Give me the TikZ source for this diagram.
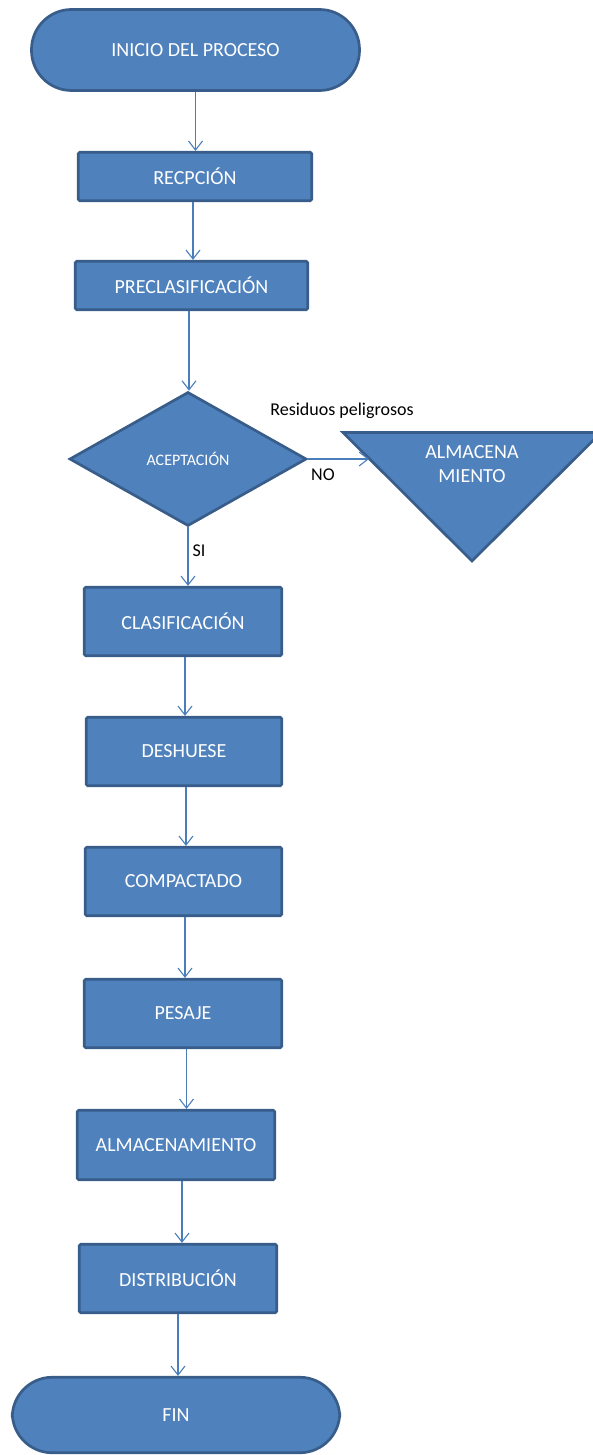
\documentclass[tikz,border=0pt]{standalone}
\usepackage{fontspec}
\setmainfont{Carlito}
\usetikzlibrary{shapes.geometric,arrows.meta}
\definecolor{boxfill}{HTML}{4F81BD}
\definecolor{boxline}{HTML}{385D8A}
\definecolor{arrowc}{HTML}{4A7EBB}
\tikzset{
  procbox/.style={draw=boxline, fill=boxfill, line width=2.7pt, rounded corners=1.5pt, text=white, inner sep=0pt, font=\fontsize{20}{24}\selectfont},
  termbox/.style={procbox, rounded corners=40pt},
  decbox/.style={draw=boxline, fill=boxfill, line width=2.7pt, diamond, text=white, inner sep=0pt, font=\fontsize{16}{19}\selectfont},
  storebox/.style={draw=boxline, fill=boxfill, line width=2.7pt, line join=miter},
  flow/.style={draw=arrowc, line width=1.1pt, -{Straight Barb[length=9pt,width=14pt]}},
  lbl/.style={text=black, inner sep=0pt, font=\fontsize{18}{22}\selectfont},
  whitetxt/.style={text=white, inner sep=0pt, align=center, font=\fontsize{20}{24}\selectfont},
}
\begin{document}
\begin{tikzpicture}[x=1pt,y=-1pt]
\useasboundingbox (0,0) rectangle (592,1455);
% nodes
\node[termbox, minimum width=328pt, minimum height=81pt] (inicio) at (195.5,50) {INICIO DEL PROCESO};
\node[procbox, minimum width=233.5pt, minimum height=48.5pt] (recep) at (195,176.5) {RECPCIÓN};
\node[procbox, minimum width=232.5pt, minimum height=48.5pt] (precl) at (191.5,285.5) {PRECLASIFICACIÓN};
\node[decbox, minimum width=237pt, minimum height=134pt] (acept) at (188,459) {ACEPTACIÓN};
\path[storebox] (343,432.5) -- (601,432.5) -- (472,561) -- cycle;
\node[whitetxt] (alm) at (472,464) {ALMACENA\\MIENTO};
\coordinate (almin) at (369,459);
\node[procbox, minimum width=197.5pt, minimum height=68.5pt] (clas) at (183,621.5) {CLASIFICACIÓN};
\node[procbox, minimum width=195.5pt, minimum height=68.5pt] (desh) at (184,751.5) {DESHUESE};
\node[procbox, minimum width=196.5pt, minimum height=68.5pt] (comp) at (183.5,881.5) {COMPACTADO};
\node[procbox, minimum width=197.5pt, minimum height=68.5pt] (pesa) at (183,1013.5) {PESAJE};
\node[procbox, minimum width=197.5pt, minimum height=69.5pt] (almac) at (176,1145) {ALMACENAMIENTO};
\node[procbox, minimum width=197.5pt, minimum height=68.5pt] (dist) at (178,1278.5) {DISTRIBUCIÓN};
\node[termbox, minimum width=327.5pt, minimum height=75.5pt] (fin) at (176,1415) {FIN};
% labels
\node[lbl] (res) at (342,411) {Residuos peligrosos};
\node[lbl] (no) at (323,475) {NO};
\node[lbl] (si) at (199,551) {SI};
% connectors
\draw[flow] (inicio.south) -- (inicio.south |- recep.north);
\draw[flow] ([xshift=-2pt]recep.south) -- ([xshift=-2pt]recep.south |- precl.north);
\draw[flow] ([xshift=-2.5pt]precl.south) -- ([xshift=-2.5pt]precl.south |- acept.north);
\draw[flow] (acept.east) -- (almin);
\draw[flow] (acept.south) -- (acept.south |- clas.north);
\draw[flow] ([xshift=2pt]clas.south) -- ([xshift=2pt]clas.south |- desh.north);
\draw[flow] ([xshift=2pt]desh.south) -- ([xshift=2pt]desh.south |- comp.north);
\draw[flow] ([xshift=1.5pt]comp.south) -- ([xshift=1.5pt]comp.south |- pesa.north);
\draw[flow] ([xshift=3.5pt]pesa.south) -- ([xshift=3.5pt]pesa.south |- almac.north);
\draw[flow] ([xshift=6pt]almac.south) -- ([xshift=6pt]almac.south |- dist.north);
\draw[flow] (dist.south) -- (dist.south |- fin.north);
\end{tikzpicture}
\end{document}
